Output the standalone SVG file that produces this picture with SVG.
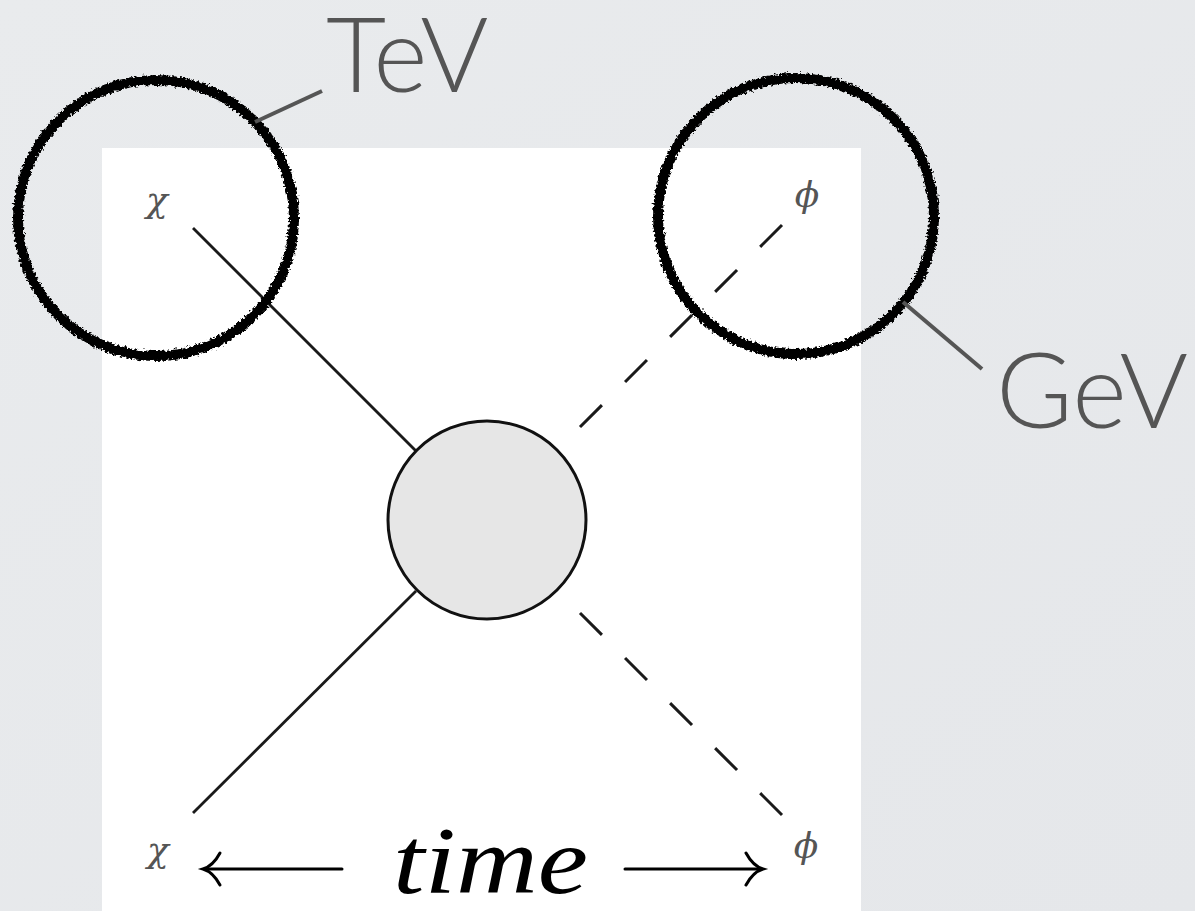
<svg xmlns="http://www.w3.org/2000/svg" width="1195" height="911" viewBox="0 0 1195 911">
  <defs>
    <linearGradient id="bg" x1="0" y1="0" x2="1" y2="1">
      <stop offset="0" stop-color="#e9ebed"/>
      <stop offset="1" stop-color="#e5e7ea"/>
    </linearGradient>
    <filter id="rough" x="-10%" y="-10%" width="120%" height="120%">
      <feTurbulence type="fractalNoise" baseFrequency="0.4" numOctaves="2" seed="3" result="n"/>
      <feDisplacementMap in="SourceGraphic" in2="n" scale="6" xChannelSelector="R" yChannelSelector="G"/>
    </filter>
    <style>
      .callout { fill: none; stroke: #000; stroke-width: 10; filter: url(#rough); }
      .leader { stroke: #555; stroke-width: 4; fill: none; }
      .unit { font-family: Lato, "Open Sans", sans-serif; font-weight: 300; font-size: 104px; fill: #555; }
      .solid { stroke: #1a1a1a; stroke-width: 2.8; fill: none; }
      .dashed { stroke: #1a1a1a; stroke-width: 3; fill: none; stroke-dasharray: 31 32.7; }
      .lbl { font-family: "DejaVu Serif", "Liberation Serif", serif; font-style: italic; font-size: 36px; fill: #555; text-anchor: middle; }
      .arrow { stroke: #000; stroke-width: 3; fill: none; stroke-linecap: round; }
    </style>
  </defs>

  <rect x="0" y="0" width="1195" height="911" fill="url(#bg)"/>

  <g id="panel">
    <rect x="102" y="148" width="759" height="763" fill="#ffffff"/>
  </g>

  <g id="connectors">
    <line class="solid" x1="193" y1="228" x2="416" y2="451"/>
    <line class="solid" x1="416" y1="591" x2="193" y2="813"/>
    <line class="dashed" x1="580" y1="427" x2="782" y2="225"/>
    <line class="dashed" x1="580" y1="613" x2="782" y2="815"/>
  </g>

  <g id="vertex">
    <circle cx="487" cy="520" r="99" fill="#e6e6e6" stroke="#111" stroke-width="3"/>
  </g>

  <g id="label-chi-top"><text class="lbl" x="157" y="212">χ</text></g>
  <g id="label-chi-bottom"><text class="lbl" x="158" y="862">χ</text></g>
  <g id="label-phi-top"><text class="lbl" x="807" y="207">ϕ</text></g>
  <g id="label-phi-bottom"><text class="lbl" x="806" y="858">ϕ</text></g>

  <g id="time-axis">
    <line class="arrow" x1="205" y1="869" x2="342" y2="869"/>
    <path class="arrow" d="M220,853 Q213,866 203,869 Q213,872 220,885"/>
    <line class="arrow" x1="625" y1="869" x2="761" y2="869"/>
    <path class="arrow" d="M746,853 Q753,866 763,869 Q753,872 746,885"/>
    <text x="393" y="893" font-family="'Liberation Serif', serif" font-style="italic" font-size="96" fill="#000" textLength="195" lengthAdjust="spacingAndGlyphs">time</text>
  </g>

  <g id="tev-callout">
    <circle class="callout" cx="156" cy="218" r="138"/>
    <line class="leader" x1="255" y1="122" x2="322" y2="91"/>
    <text class="unit" x="326" y="92">TeV</text>
  </g>

  <g id="gev-callout">
    <circle class="callout" cx="796" cy="216" r="138"/>
    <line class="leader" x1="903" y1="302" x2="982" y2="369"/>
    <text class="unit" x="996" y="428" textLength="192" lengthAdjust="spacingAndGlyphs">GeV</text>
  </g>
</svg>
